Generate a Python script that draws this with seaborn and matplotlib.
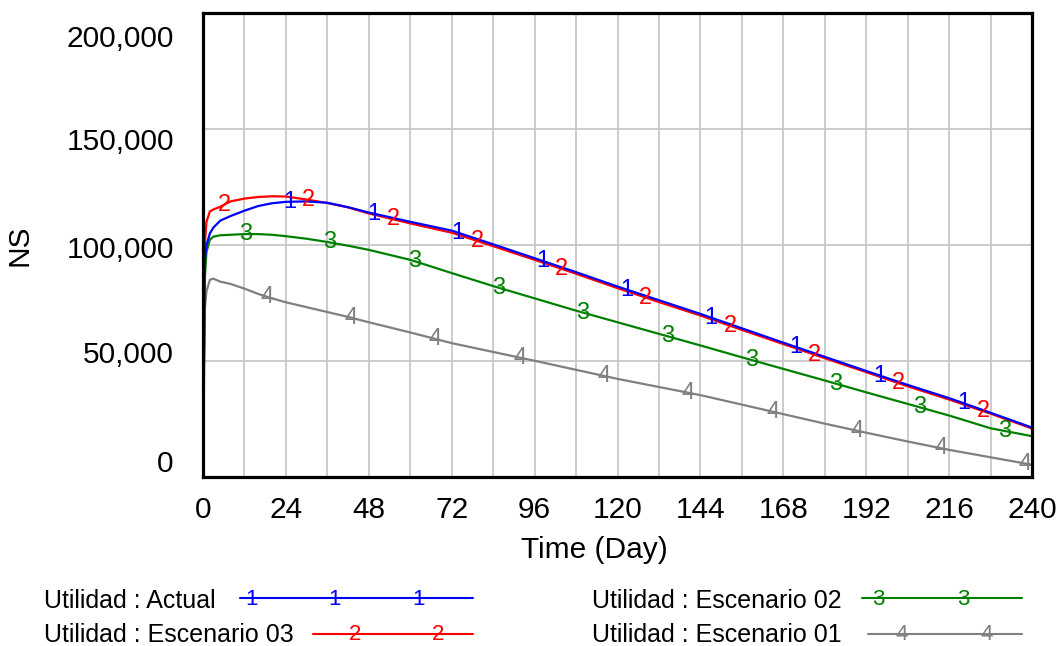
import numpy as np
import pandas as pd
import matplotlib
matplotlib.use("Agg")
import matplotlib.pyplot as plt
from matplotlib.lines import Line2D
from matplotlib.transforms import ScaledTranslation
import seaborn as sns

# ---------------- data ----------------
time_days = [0, 0.5, 1, 2, 3, 5, 8, 12, 16, 20, 24, 30, 36, 42, 48, 60, 72, 84,
             96, 108, 120, 132, 144, 156, 168, 180, 192, 204, 216, 228, 240]

utilidad_actual = [0, 93000, 100000, 105000, 107500, 110500, 112500, 114800, 116800,
                   118000, 118600, 118800, 118200, 116300, 114000, 110000, 106200,
                   100300, 94300, 88300, 82100, 76200, 70300, 64100, 57900, 51800,
                   45700, 39700, 34000, 27700, 21300]
utilidad_esc03 = [0, 100000, 110000, 114500, 115300, 116500, 118800, 120000, 120700,
                  121000, 120900, 119600, 118100, 116200, 113600, 109300, 105300,
                  99500, 93600, 87600, 81400, 75400, 69600, 63400, 57300, 51200,
                  45200, 39100, 33400, 27300, 20900]
utilidad_esc02 = [0, 85000, 97000, 102300, 103600, 104200, 104400, 104700, 104700,
                  104400, 103800, 102700, 101300, 99700, 97900, 93600, 87900, 82300,
                  77000, 71700, 66700, 61700, 56700, 51600, 46600, 41600, 36500,
                  31500, 26500, 21000, 17600]
utilidad_esc01 = [0, 72000, 80000, 85000, 85500, 84200, 83200, 81200, 78900, 77000,
                  75300, 73200, 71100, 69000, 66700, 62300, 57700, 53900, 50100,
                  46200, 42300, 38800, 35300, 31200, 27100, 23000, 19100, 15300,
                  11700, 8500, 5300]

series_names = ["Utilidad : Actual", "Utilidad : Escenario 03",
                "Utilidad : Escenario 02", "Utilidad : Escenario 01"]
series_ids = ["1", "2", "3", "4"]
series_values = [utilidad_actual, utilidad_esc03, utilidad_esc02, utilidad_esc01]
series_colors = ["#0000FF", "#FF0000", "#008000", "#808080"]

y_ticks = [0, 50000, 100000, 150000, 200000]
y_tick_labels = ["0", "50,000", "100,000", "150,000", "200,000"]
x_ticks = list(range(0, 241, 24))
x_tick_labels = [str(v) for v in x_ticks]
x_label = "Time (Day)"
y_label = "NS"

# ---------------- style ----------------
sns.set_style("white")
plt.rcParams["font.family"] = ["Liberation Sans", "DejaVu Sans"]
plt.rcParams["text.color"] = "black"
plt.rcParams["axes.labelcolor"] = "black"
plt.rcParams["xtick.color"] = "black"
plt.rcParams["ytick.color"] = "black"

W, H = 1061, 646
fig = plt.figure(figsize=(W / 100, H / 100), dpi=100)
px_l, px_r, px_t, px_b = 203, 1032, 13, 477
ax = fig.add_axes([px_l / W, 1 - px_b / H, (px_r - px_l) / W, (px_b - px_t) / H])

df = pd.DataFrame({
    "time": np.tile(time_days, len(series_names)),
    "value": np.concatenate(series_values),
    "series": np.repeat(series_names, len(time_days)),
})

# draw order: gray, green, red, blue (blue on top)
draw_order = [3, 2, 1, 0]
for i in draw_order:
    sub = df[df["series"] == series_names[i]]
    sns.lineplot(data=sub, x="time", y="value", color=series_colors[i],
                 linewidth=1.6, ax=ax, legend=False, estimator=None, sort=False,
                 zorder=2)

# numbered markers along lines (Vensim style)
mark_step = 24.4
mark_offsets = [0.7, 6.2, 12.4, 18.5]
mark_kstart = [1, 0, 0, 0]
for i in draw_order:
    ts = np.arange(mark_offsets[i] + mark_kstart[i] * mark_step, 240.01, mark_step)
    vs = np.interp(ts, time_days, series_values[i])
    for t, v in zip(ts, vs):
        ax.text(t, v, series_ids[i], color=series_colors[i], fontsize=17,
                ha="center", va="center", zorder=3, clip_on=False)

ax.set_xlim(0, 240)
ax.set_ylim(0, 200000)
ax.set_xticks(x_ticks)
ax.set_xticklabels(x_tick_labels)
ax.set_xticks(list(range(0, 241, 12)), minor=True)
ax.set_yticks(y_ticks)
ax.set_yticklabels(y_tick_labels)

ax.grid(True, which="both", axis="x", color="#c8c8c8", linewidth=1.3)
ax.grid(True, which="major", axis="y", color="#c8c8c8", linewidth=1.3)
ax.set_axisbelow(True)

ax.tick_params(axis="both", which="both", length=0, colors="black")
ax.tick_params(axis="x", labelsize=21.5, pad=14)
ax.tick_params(axis="y", labelsize=21.5, pad=21)

for s in ax.spines.values():
    s.set_visible(True)
    s.set_color("black")
    s.set_linewidth(2.3)
    s.set_zorder(4)

# Vensim spreads the y labels evenly inside the axis height
y_label_shift_px = [-15.7, -9.0, 1.7, 10.0, 23.4]
for lab, dy in zip(ax.get_yticklabels(), y_label_shift_px):
    lab.set_transform(lab.get_transform() +
                      ScaledTranslation(0, -dy / 100, fig.dpi_scale_trans))

ax.set_xlabel(x_label, fontsize=21.5, color="black")
ax.xaxis.set_label_coords((594.5 - px_l) / (px_r - px_l), (px_b - 536) / (px_b - px_t))
ax.xaxis.label.set_va("top")
ax.set_ylabel(y_label, fontsize=21.5, color="black")
ax.yaxis.set_label_coords((33 - px_l) / (px_r - px_l), 0.5)

# ---------------- legend (drawn manually, Vensim style) ----------------
legend_layout = [
    # text_x, baseline_y, line_x0, line_x1, line_y, first marker x, marker step
    (44, 607.5, 240, 473, 598.3, 251.7, 83.3),
    (44, 642.0, 313, 473, 633.5, 355.0, 83.3),
    (592, 607.5, 862, 1022, 598.3, 878.3, 85.0),
    (592, 642.0, 868, 1022, 633.5, 901.7, 85.0),
]
for i, (tx, by, lx0, lx1, ly, mx0, mstep) in enumerate(legend_layout):
    fig.text(tx / W, 1 - by / H, series_names[i], fontsize=18, color="black",
             ha="left", va="baseline")
    fig.add_artist(Line2D([lx0 / W, lx1 / W], [1 - ly / H, 1 - ly / H],
                          color=series_colors[i], linewidth=1.5,
                          transform=fig.transFigure))
    mx = mx0
    while mx < lx1 - 10:
        fig.text(mx / W, 1 - (ly + 1.5) / H, series_ids[i], fontsize=16,
                 color=series_colors[i], ha="center", va="center")
        mx += mstep

fig.savefig("out.png", dpi=100)
